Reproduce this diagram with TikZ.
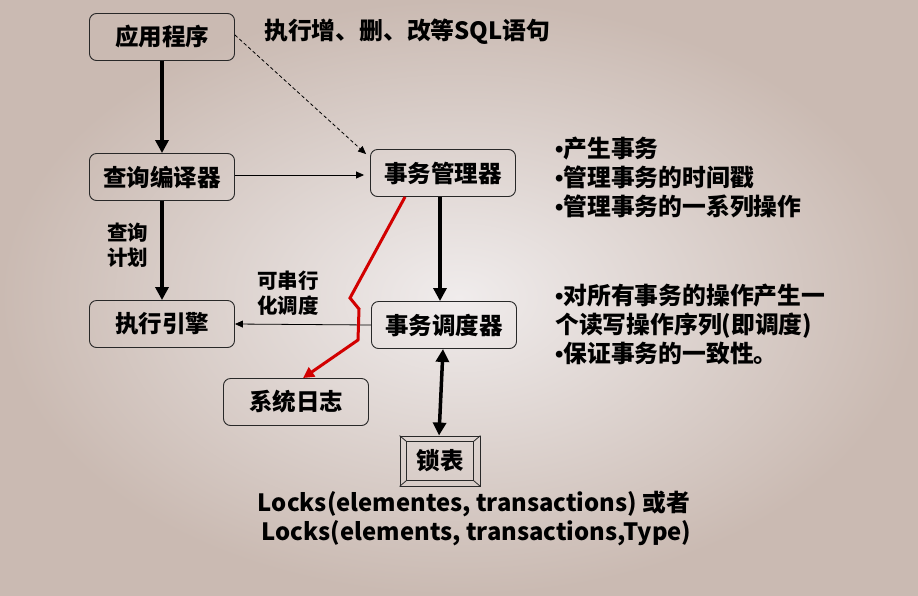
\documentclass[tikz,border=0pt]{standalone}
\usepackage{fontspec}
\setmainfont{Noto Sans CJK SC}
\newfontfamily\bulfont{Liberation Sans}
\newcommand{\bul}{{\bulfont\bfseries •}}
\usetikzlibrary{arrows.meta}
\definecolor{bgin}{RGB}{240,236,236}
\definecolor{bgout}{RGB}{202,186,178}
\definecolor{redline}{RGB}{210,0,0}
\definecolor{boxline}{RGB}{40,40,40}
\tikzset{
  box/.style={draw=boxline,line width=0.9pt,rounded corners=7pt,minimum width=145pt,minimum height=47pt,inner sep=0pt,font=\bfseries\fontsize{23.5}{27}\selectfont},
  lbl/.style={inner sep=0pt,font=\bfseries\fontsize{23.8}{29}\selectfont,align=left},
  slbl/.style={inner sep=0pt,font=\bfseries\fontsize{20.5}{25}\selectfont,align=left},
  thick arrow/.style={line width=3.5pt,-{Triangle[length=13pt,width=13pt]}},
  thin arrow/.style={line width=0.8pt,-{Triangle[length=8pt,width=7pt]}},
}
\begin{document}
\begin{tikzpicture}[x=1pt,y=-1pt]
\useasboundingbox (0,0) rectangle (918,595);
\shade[inner color=bgin,outer color=bgout] (0,0) rectangle (918,595);
% boxes
\node[box] (app) at (162,37) {应用程序};
\node[box] (qc) at (162,177) {查询编译器};
\node[box] (tm) at (443,173) {事务管理器};
\node[box] (ts) at (444,325) {事务调度器};
\node[box] (ee) at (162,324) {执行引擎};
\node[box] (log) at (296,402) {系统日志};
\node[draw=boxline,line width=0.9pt,minimum width=80pt,minimum height=50pt,inner sep=0pt,font=\bfseries\fontsize{23.5}{27}\selectfont] (lock) at (440,461) {锁表};
\coordinate (li1) at ([xshift=7pt,yshift=-6pt]lock.north west);
\coordinate (li2) at ([xshift=-7pt,yshift=-6pt]lock.north east);
\coordinate (li3) at ([xshift=-7pt,yshift=6pt]lock.south east);
\coordinate (li4) at ([xshift=7pt,yshift=6pt]lock.south west);
\draw[boxline,line width=0.8pt] (li1) -- (li2) -- (li3) -- (li4) -- cycle;
\draw[boxline,line width=0.8pt] (lock.north west) -- (li1) (lock.north east) -- (li2) (lock.south east) -- (li3) (lock.south west) -- (li4);
% texts
\node[lbl,anchor=west] (sql) at (264,32) {执行增、删、改等SQL语句};
\node[lbl,anchor=north west] (tmtxt) at (555,137) {\bul 产生事务\\\bul 管理事务的时间戳\\\bul 管理事务的一系列操作};
\node[lbl,anchor=north west] (tstxt) at (555,284) {\bul 对所有事务的操作产生一\\个读写操作序列(即调度)\\\bul 保证事务的一致性。};
\node[slbl,anchor=north west] (plan) at (107,223) {查询\\计划};
\node[slbl,anchor=north west] (ser) at (257,271) {可串行\\化调度};
\node[lbl,align=center,anchor=north] (locks) at (474,491) {Locks(elementes, transactions) 或者\\\ Locks(elements, transactions,Type)};
% connectors
\draw[thick arrow] (app.south) -- (qc.north);
\draw[thick arrow] (qc.south) -- (ee.north);
\draw[thick arrow] ([xshift=-3pt]tm.south) -- ([xshift=-4pt]ts.north);
\draw[line width=3.5pt,{Triangle[length=13pt,width=13pt]}-{Triangle[length=13pt,width=13pt]}] ([xshift=-1pt]ts.south) -- ([xshift=-1pt]lock.north);
\draw[thin arrow,dash pattern=on 3.5pt off 2.5pt] ([yshift=2pt]app.east) -- ([xshift=-4pt,yshift=-5pt]tm.north west);
\draw[thin arrow] ([yshift=2pt]qc.east) -- ([yshift=2pt,xshift=-6pt]qc.east -| tm.west);
\draw[thin arrow] (ts.west) -- (ee.east);
\coordinate (r1) at (350,298);
\coordinate (r2) at (359,309);
\coordinate (r3) at (358,340);
\draw[redline,line width=3pt,-{Triangle[length=11pt,width=11pt]}] ([xshift=-38pt]tm.south) -- (r1) -- (r2) -- (r3) -- ([xshift=7pt]log.north);
\end{tikzpicture}
\end{document}
